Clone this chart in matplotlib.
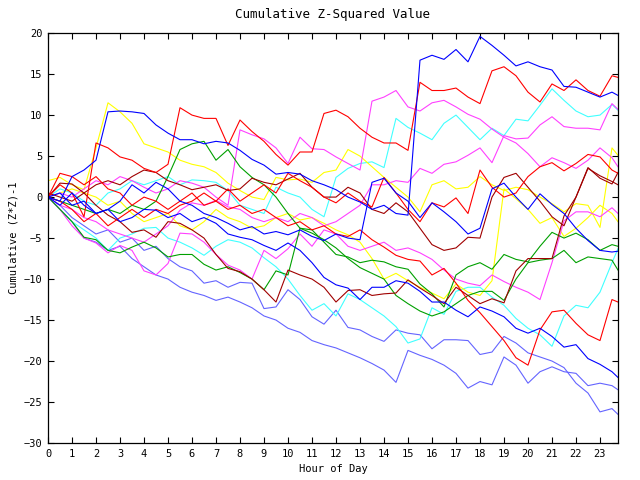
import matplotlib
matplotlib.use("Agg")
import matplotlib.pyplot as plt

# hour of day (half-hour samples, last one at 23:45)
hours = [i * 0.5 for i in range(48)] + [23.75]

# cumulative (z*z)-1 per series
blue_1 = [0, -0.5, 2.5, 3.3, 4.5, 10.4, 10.5, 10.4, 10.2, 8.8, 7.8, 7.0,
          7.0, 6.5, 6.8, 6.6, 5.7, 4.6, 3.9, 2.8, 3.0, 2.8, 2.0, 1.5,
          0.9, 0.0, -0.6, -1.5, -1.0, -2.0, -2.2, 16.7, 17.3, 16.8, 18.0, 16.5,
          19.6, 18.5, 17.3, 16.0, 16.5, 15.9, 15.5, 13.5, 13.4, 12.8, 12.2, 12.8,
          12.4]
blue_2 = [0, -1.0, 0.5, -1.0, -2.0, -1.5, -0.5, 1.5, 0.5, 1.8, 1.0, -0.5,
          -1.0, -2.0, -2.5, -3.2, -4.0, -3.6, -4.5, -4.2, -4.6, -4.0, -4.8, -5.3,
          -4.5, -5.0, -5.2, 1.8, 2.3, 0.5, -0.5, -2.5, -0.7, -1.8, -3.0, -4.5,
          -3.8, 1.0, 1.7, 0.0, -1.5, 0.4, -0.9, -2.0, -3.8, -5.3, -6.5, -6.7,
          -6.6]
blue_3 = [0, 0.5, -1.0, -0.5, -2.0, -1.5, -3.0, -2.5, -1.5, -1.6, -2.5, -2.0,
          -3.0, -2.5, -3.2, -4.5, -4.9, -5.2, -5.9, -6.5, -5.6, -6.5, -8.0, -9.8,
          -10.7, -11.1, -12.5, -11.0, -11.0, -10.2, -10.5, -11.5, -12.8, -12.8, -13.8, -14.6,
          -13.4, -13.9, -14.6, -16.0, -16.6, -16.0, -17.0, -18.3, -18.0, -19.7, -20.4, -21.3,
          -22.0]
slate_1 = [0, -1.0, -2.5, -3.5, -4.5, -4.0, -5.5, -5.0, -6.5, -6.0, -7.5, -8.5,
           -9.0, -10.5, -10.2, -11.0, -10.4, -10.5, -13.6, -13.4, -11.3, -12.5, -14.6, -15.5,
           -13.8, -15.9, -16.2, -17.0, -17.6, -16.2, -16.6, -16.8, -18.5, -17.4, -17.4, -17.5,
           -19.2, -18.9, -17.0, -17.8, -19.0, -19.5, -20.0, -20.8, -22.7, -23.9, -26.2, -25.8,
           -26.5]
slate_2 = [0, -1.5, -3.0, -5.0, -5.5, -6.5, -6.0, -7.5, -8.5, -9.5, -10.0, -11.0,
           -11.6, -12.0, -12.6, -12.2, -12.8, -13.5, -14.5, -15.0, -16.0, -16.5, -17.5, -18.0,
           -18.4, -19.0, -19.6, -20.3, -21.1, -22.6, -18.7, -19.3, -19.8, -20.5, -21.5, -23.3,
           -22.5, -22.9, -19.5, -20.5, -22.7, -21.3, -20.7, -21.3, -21.5, -23.0, -22.7, -23.0,
           -23.5]
red_1 = [0, 1.5, 0.5, -2.4, 6.6, 6.0, 4.9, 4.5, 3.5, 3.0, 4.0, 10.9,
         10.0, 9.6, 9.6, 6.3, 9.4, 8.0, 6.8, 5.2, 3.9, 5.5, 5.5, 10.2,
         10.6, 9.8, 8.4, 7.3, 6.6, 6.6, 5.7, 14.0, 13.0, 13.0, 13.3, 12.2,
         11.4, 15.4, 15.9, 14.8, 12.8, 11.6, 13.8, 13.0, 14.3, 13.0, 12.3, 14.8,
         14.6]
red_2 = [0, -0.5, -1.5, -3.0, -2.0, -3.5, -2.5, -1.5, -2.5, -1.5, -2.0, -1.0,
         -0.5, 0.5, -0.5, -1.5, -1.0, -2.0, -1.5, -2.5, -3.5, -3.0, -4.0, -3.5,
         -4.5, -4.8, -4.0, -5.2, -6.1, -7.1, -7.6, -7.8, -9.5, -8.7, -10.5, -12.6,
         -14.1, -15.8, -17.5, -19.6, -20.5, -16.2, -14.0, -13.8, -15.4, -16.8, -17.5, -12.5,
         -12.8]
red_3 = [0, 2.9, 2.5, 1.5, 2.5, 1.0, 0.5, -1.0, 0.0, -0.5, -1.5, -0.5,
         0.5, -1.0, -0.5, 1.0, -0.5, 0.5, 1.5, 0.5, 2.9, 2.0, 1.2, 0.0,
         -0.7, 0.5, -0.5, -1.2, 2.4, 0.5, -1.5, -3.0, -0.7, -1.2, -0.1, -2.0,
         3.3, 1.2, 0.0, 0.5, 2.5, 3.7, 4.2, 3.2, 4.1, 5.2, 4.9, 3.3,
         2.9]
darkred_1 = [0, 1.7, 1.6, 0.5, -1.0, -2.2, -3.0, -4.3, -4.0, -4.9, -3.0, -3.2,
             -4.0, -5.0, -7.0, -8.7, -9.1, -10.0, -11.3, -12.8, -8.9, -9.5, -10.0, -11.0,
             -12.8, -11.4, -11.3, -12.0, -11.8, -11.7, -10.1, -11.1, -12.0, -13.0, -11.0, -12.0,
             -13.0, -12.4, -12.9, -9.0, -7.5, -7.5, -7.5, -2.3, 0.0, 3.5, 2.6, 1.9,
             1.5]
darkred_2 = [0.5, 0.0, -0.5, 0.5, 1.5, 2.0, 1.5, 2.5, 3.3, 3.0, 2.0, 1.5,
             0.9, 1.2, 1.5, 0.8, 1.0, 2.3, 1.8, 1.5, 2.2, 2.9, 1.2, 0.0,
             0.0, 1.2, 0.5, -1.5, -2.0, -0.7, -1.8, -3.8, -5.8, -6.5, -6.2, -4.9,
             -5.0, 0.0, 2.4, 2.9, 1.2, -0.5, -2.4, -3.5, 0.0, 3.6, 2.3, 1.6,
             3.0]
green_1 = [0, -0.5, -1.0, -1.5, -2.0, -1.5, -2.0, -1.0, -1.5, -0.5, 2.5, 5.8,
           6.5, 6.8, 4.5, 5.8, 3.7, 2.4, 1.5, 0.0, -2.0, -3.8, -4.4, -5.2,
           -6.2, -7.5, -8.6, -9.3, -10.0, -12.0, -13.0, -13.9, -14.5, -14.0, -13.0, -12.0,
           -11.5, -11.5, -12.6, -10.0, -8.0, -7.7, -7.5, -6.5, -8.0, -7.3, -7.5, -7.7,
           -8.9]
green_2 = [0, -1.5, -3.0, -4.9, -5.2, -6.5, -6.8, -6.1, -5.5, -6.2, -7.3, -7.0,
           -7.0, -8.2, -8.9, -8.5, -9.2, -10.0, -11.3, -9.0, -9.5, -3.8, -4.0, -5.5,
           -7.0, -7.3, -8.0, -7.7, -7.9, -8.5, -8.8, -10.6, -11.8, -13.4, -9.5, -8.5,
           -8.0, -8.8, -7.0, -7.6, -7.9, -6.0, -4.3, -5.0, -4.4, -5.2, -6.5, -5.8,
           -6.0]
cyan_1 = [0, 1.0, 0.5, -0.5, -1.0, 0.5, 1.0, 2.0, 1.5, 2.0, 2.5, 1.5,
          2.1, 2.0, 1.8, 0.8, -1.0, -1.5, -2.0, 1.2, 0.5, 0.0, -1.5, -2.4,
          2.4, 3.5, 4.1, 4.3, 3.6, 9.6, 8.5, 7.8, 7.0, 9.0, 10.0, 8.5,
          7.0, 8.4, 7.5, 9.5, 9.3, 11.2, 13.2, 11.8, 10.5, 9.8, 10.0, 11.3,
          10.6]
cyan_2 = [0, -1.5, -3.0, -4.0, -5.0, -6.5, -5.0, -4.5, -3.8, -3.7, -5.0, -5.5,
          -6.2, -7.1, -6.0, -5.2, -5.5, -6.2, -7.4, -8.5, -10.0, -12.0, -13.8, -13.0,
          -14.5, -11.8, -12.5, -13.5, -14.5, -15.8, -17.8, -17.3, -13.5, -14.3, -11.5, -11.0,
          -11.0, -12.2, -13.2, -14.8, -16.0, -16.8, -18.2, -14.5, -13.2, -13.5, -11.6, -8.0,
          -6.3]
yellow_1 = [2.0, 2.4, 1.5, 0.9, 6.0, 11.5, 10.4, 9.0, 6.5, 6.0, 5.5, 4.5,
            4.0, 3.7, 3.0, 1.7, 0.8, 0.0, -0.3, 2.4, 2.1, 2.2, 1.8, 3.0,
            3.3, 5.8, 5.0, 3.7, 2.4, 1.2, 0.0, -1.8, 1.5, 2.0, 1.0, 1.2,
            2.5, 1.5, 0.8, 1.2, 0.9, 0.0, -0.8, -1.8, -0.8, -1.0, -3.7, 6.0,
            5.1]
yellow_2 = [0, 0.5, 1.0, 0.5, 0.0, -1.0, -0.5, -2.0, -3.0, -2.5, -2.0, -3.5,
            -4.0, -3.0, -1.5, -2.5, -3.0, -3.8, -3.5, -2.5, -2.0, -2.8, -2.5, -3.2,
            -4.0, -4.6, -5.5, -7.5, -10.0, -9.3, -10.2, -11.0, -11.7, -12.4, -10.6, -11.6,
            -12.0, -10.2, 1.0, -0.2, -1.5, -3.2, -2.5, -4.8, -3.8, -2.5, -1.0, -2.0,
            -3.0]
magenta_1 = [0, -1.0, -1.5, -2.5, -3.0, -4.0, -4.5, -5.0, -5.5, -4.5, -3.5, -1.6,
             -0.7, -1.0, -0.4, -1.2, -1.5, -2.5, -3.0, -2.5, -3.0, -2.0, -2.5, -3.5,
             -3.0, -2.0, -1.0, 1.5, 1.5, 2.0, 1.8, 3.5, 2.9, 4.0, 4.3, 5.1,
             6.0, 4.2, 7.5, 7.1, 7.2, 8.8, 9.8, 8.6, 8.4, 8.4, 8.2, 11.4,
             10.7]
magenta_2 = [0, 0.5, 0.0, 1.0, 2.0, 1.5, 2.5, 2.0, 1.2, 0.5, 1.0, 2.0,
             1.7, 1.2, 0.0, -1.0, 8.2, 7.6, 7.1, 6.0, 4.1, 7.3, 5.9, 5.8,
             4.9, 4.1, 3.3, 11.7, 12.2, 13.0, 11.0, 10.5, 11.5, 11.8, 11.0, 10.1,
             9.5, 8.3, 7.3, 6.6, 5.3, 3.7, 4.8, 4.2, 3.5, 4.5, 6.0, 4.8,
             3.7]
magenta_3 = [0, -1.5, -3.5, -5.0, -5.6, -6.8, -5.9, -6.5, -9.0, -9.5, -8.1, -4.4,
             -4.5, -5.5, -7.0, -8.3, -8.9, -10.0, -6.5, -7.5, -6.3, -4.5, -6.0, -4.0,
             -4.5, -6.0, -6.5, -6.0, -5.5, -6.5, -6.2, -6.8, -7.6, -8.9, -10.0, -10.5,
             -10.8, -9.5, -10.3, -11.0, -11.6, -12.5, -8.0, -2.9, -1.8, -1.8, -2.4, -1.3,
             -2.0]

series = [
    (slate_1, "#6464ff"), (slate_2, "#6464ff"),
    (cyan_1, "#40ffff"), (cyan_2, "#40ffff"),
    (yellow_1, "#ffff00"), (yellow_2, "#ffff00"),
    (magenta_1, "#ff40ff"), (magenta_2, "#ff40ff"), (magenta_3, "#ff40ff"),
    (green_1, "#00a000"), (green_2, "#00a000"),
    (darkred_1, "#a00000"), (darkred_2, "#a00000"),
    (red_1, "#ff0000"), (red_2, "#ff0000"), (red_3, "#ff0000"),
    (blue_1, "#0000ff"), (blue_2, "#0000ff"), (blue_3, "#0000ff"),
]

plt.rcParams['font.family'] = 'DejaVu Sans Mono'
plt.rcParams['font.size'] = 7.5

fig = plt.figure(figsize=(6.4, 4.8), dpi=100)
ax = fig.add_axes([0.075, 0.077, 0.8906, 0.854])

for values, color in series:
    ax.plot(hours, values, color=color, linewidth=0.8)

ax.set_xlim(0, 23.75)
ax.set_ylim(-30, 20)
ax.set_xticks(range(24))
ax.set_yticks(range(-30, 21, 5))
ax.tick_params(direction='in', top=True, right=True, length=4, width=0.8, pad=4)
for spine in ax.spines.values():
    spine.set_linewidth(0.9)

ax.set_title('Cumulative Z-Squared Value', pad=11)
ax.set_xlabel('Hour of Day', labelpad=4)
ax.set_ylabel('Cumulative (Z*Z)-1', labelpad=4)

fig.savefig('out.png', dpi=100)
